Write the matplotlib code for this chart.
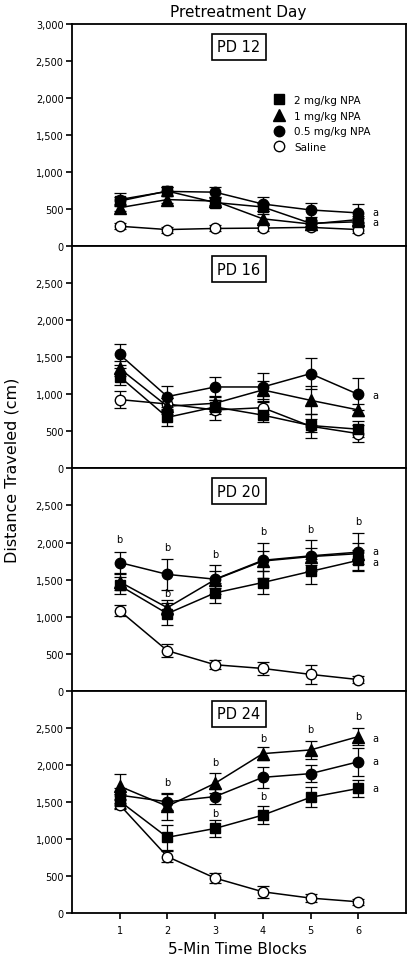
import numpy as np
import matplotlib
matplotlib.use("Agg")
import matplotlib.pyplot as plt
from matplotlib.ticker import FuncFormatter

# ===== DADOS =====
blocos = [1, 2, 3, 4, 5, 6]
dias = ["PD 12", "PD 16", "PD 20", "PD 24"]

# médias (cm) por dia: 2 mg/kg, 1 mg/kg, 0.5 mg/kg, salina
npa2 = [[610, 745, 590, 530, 310, 330],
        [1240, 690, 830, 720, 580, 530],
        [1420, 1040, 1320, 1460, 1610, 1760],
        [1510, 1020, 1140, 1320, 1560, 1680]]
npa1 = [[520, 630, 610, 370, 300, 360],
        [1350, 840, 880, 1060, 920, 790],
        [1470, 1120, 1500, 1750, 1810, 1850],
        [1710, 1440, 1750, 2150, 2200, 2380]]
npa05 = [[630, 740, 730, 570, 490, 450],
         [1540, 970, 1100, 1100, 1280, 1000],
         [1730, 1570, 1505, 1760, 1820, 1870],
         [1590, 1500, 1570, 1830, 1880, 2040]]
salina = [[270, 225, 240, 245, 255, 225],
          [930, 870, 790, 820, 570, 470],
          [1080, 540, 350, 300, 220, 150],
          [1460, 760, 470, 285, 200, 150]]

# erros padrão
sem2 = [[60, 60, 60, 60, 40, 50],
        [110, 115, 90, 90, 90, 110],
        [110, 150, 135, 150, 165, 135],
        [100, 165, 120, 125, 135, 120]]
sem1 = [[50, 50, 50, 60, 40, 50],
        [100, 110, 100, 120, 190, 80],
        [110, 100, 110, 130, 120, 140],
        [170, 180, 135, 90, 120, 115]]
sem05 = [[85, 60, 70, 100, 95, 120],
         [140, 140, 140, 190, 210, 216],
         [145, 205, 195, 235, 210, 255],
         [100, 110, 100, 140, 110, 190]]
sem_sal = [[40, 40, 40, 40, 40, 40],
           [110, 80, 135, 80, 160, 115],
           [70, 90, 60, 90, 130, 50],
           [60, 75, 70, 80, 50, 40]]

# letras de significância: (x, y, texto)
letras = [
    [(6.35, 466, "a"), (6.35, 323, "a")],
    [(6.35, 990, "a")],
    [(1, 2045, "b"), (2, 1940, "b"), (3, 1850, "b"), (4, 2150, "b"), (5, 2180, "b"),
     (6, 2290, "b"), (2, 1324, "b"), (6.35, 1880, "a"), (6.35, 1740, "a")],
    [(2, 1765, "b"), (3, 2040, "b"), (4, 2365, "b"), (5, 2477, "b"), (6, 2656, "b"),
     (3, 1350, "b"), (4, 1584, "b"), (6.35, 2365, "a"), (6.35, 2046, "a"), (6.35, 1680, "a")],
]

# ===== FIGURA =====
plt.rcParams["font.family"] = "DejaVu Sans"
fig = plt.figure(figsize=(4.13, 9.62), dpi=100)
esq, dir_, base, topo = 0.174, 0.983, 0.050, 0.974
alt = (topo - base) / 4

series = [
    ("2 mg/kg NPA", npa2, sem2, "s", "black", 4),
    ("1 mg/kg NPA", npa1, sem1, "^", "black", 3),
    ("0.5 mg/kg NPA", npa05, sem05, "o", "black", 3.5),
    ("Saline", salina, sem_sal, "o", "white", 2),
]

eixos = []
for i in range(4):
    ax = fig.add_axes([esq, topo - (i + 1) * alt, dir_ - esq, alt])
    eixos.append(ax)
    for nome, med, sem, mk, cor, z in series:
        ax.errorbar(blocos, med[i], yerr=sem[i], fmt="none", ecolor="black",
                    elinewidth=0.9, capsize=4.5, capthick=0.9, zorder=1)
        ax.plot(blocos, med[i], color="black", lw=1.1, zorder=z,
                marker=mk, markersize=7.5 if mk != "^" else 8,
                markerfacecolor=cor, markeredgecolor="black", markeredgewidth=1.0,
                label=nome)
    ax.set_xlim(0, 7)
    ax.set_ylim(0, 3000)
    if i == 0:
        ax.set_yticks(np.arange(0, 3001, 500))
    else:
        ax.set_yticks(np.arange(0, 2501, 500))
    ax.yaxis.set_major_formatter(FuncFormatter(lambda v, p: f"{int(v):,}"))
    ax.tick_params(axis="y", direction="out", length=4, width=1.2, labelsize=7, pad=2)
    if i == 3:
        ax.set_xticks(blocos)
        ax.tick_params(axis="x", direction="out", length=4, width=1.2, labelsize=7, pad=5)
    else:
        ax.set_xticks([])
    for sp in ax.spines.values():
        sp.set_linewidth(1.3)

    ax.text(3.5, 2690, dias[i], ha="center", va="center", fontsize=10.5,
            bbox=dict(boxstyle="square,pad=0.38", facecolor="white", edgecolor="black", linewidth=1.2))

    for x, y, t in letras[i]:
        ax.text(x, y, t, ha="center", va="center", fontsize=7)

leg = eixos[0].legend(loc="upper left", bbox_to_anchor=(0.59, 0.705), frameon=False,
                      fontsize=7.5, handlelength=1.0, handletextpad=0.9,
                      labelspacing=0.55, borderpad=0)
for h in leg.legend_handles:
    h.set_linestyle("none")

fig.text(0.577, 0.9875, "Pretreatment Day", ha="center", va="center", fontsize=11)
fig.text(0.576, 0.0125, "5-Min Time Blocks", ha="center", va="center", fontsize=11)
fig.text(0.029, 0.511, "Distance Traveled (cm)", ha="center", va="center",
         rotation=90, fontsize=11.5)

fig.savefig("out.png", dpi=100)
